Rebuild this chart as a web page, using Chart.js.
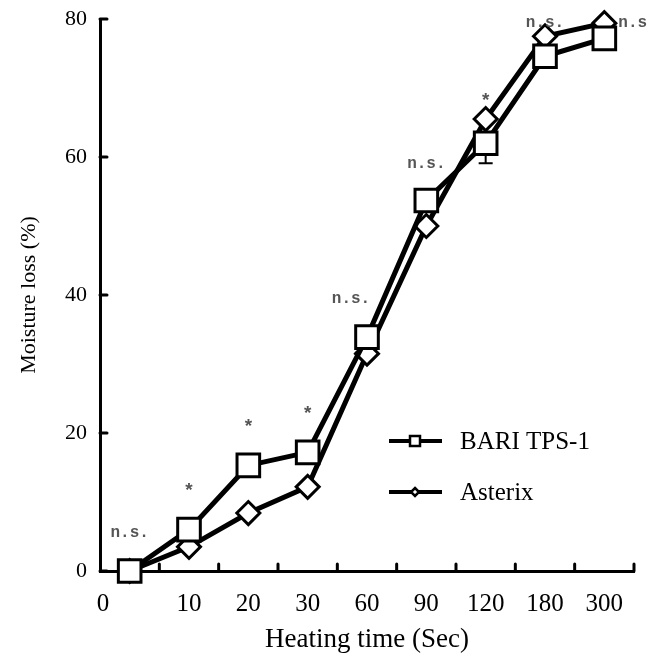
<!DOCTYPE html>
<html>
<head>
<meta charset="utf-8">
<script src="https://cdn.jsdelivr.net/npm/chart.js@4.4.1/dist/chart.umd.min.js"></script>
<style>
  html, body { margin: 0; padding: 0; background: #fff; }
  #wrap { width: 653px; height: 661px; }
</style>
</head>
<body>
<div id="wrap"><canvas id="myChart"></canvas></div>
<script>
// heating time categories (sec)
var times = ["0", "10", "20", "30", "60", "90", "120", "180", "300"];
// moisture loss (%)
var bari = [0, 6.0, 15.3, 17.2, 33.9, 53.7, 62.0, 74.6, 77.2];
var bariErr = [0, 0, 0, 0, 0, 0, 2.9, 0, 0];
var asterix = [0, 3.5, 8.4, 12.2, 31.5, 50.0, 65.5, 77.5, 79.4];
// significance marks and the height (in %) where they sit
var sigText = ["n.s.", "*", "*", "*", "n.s.", "n.s.", "*", "n.s.", "n.s"];
var sigAt = [5.5, 12.2, 21.4, 23.3, 39.4, 59.0, 68.6, 79.4, 79.4];
var yTicks = [0, 20, 40, 60, 80];

var serif = "'Liberation Serif', 'Times New Roman', serif";

var extras = {
  id: 'extras',
  beforeDatasetsDraw: function (chart) {
    var ctx = chart.ctx, x = chart.scales.x, y = chart.scales.y;
    var a = chart.chartArea;
    ctx.save();
    ctx.strokeStyle = '#000';
    ctx.lineWidth = 3;
    ctx.lineCap = 'round';
    // inward ticks on y
    yTicks.forEach(function (v) {
      var py = y.getPixelForValue(v);
      ctx.beginPath(); ctx.moveTo(a.left, py); ctx.lineTo(a.left + 7, py); ctx.stroke();
    });
    // inward ticks on x, between categories
    for (var i = 0; i < times.length; i++) {
      var px = i < times.length - 1 ? (x.getPixelForValue(i) + x.getPixelForValue(i + 1)) / 2 : a.right;
      ctx.beginPath(); ctx.moveTo(px, a.bottom); ctx.lineTo(px, a.bottom - 7); ctx.stroke();
    }
    // error bars
    ctx.lineWidth = 2;
    ctx.lineCap = 'butt';
    bari.forEach(function (v, i) {
      if (!bariErr[i]) return;
      var px = x.getPixelForValue(i);
      var lo = y.getPixelForValue(v - bariErr[i]), hi = y.getPixelForValue(v + bariErr[i]);
      ctx.beginPath();
      ctx.moveTo(px, hi); ctx.lineTo(px, lo);
      ctx.moveTo(px - 7, lo); ctx.lineTo(px + 7, lo);
      ctx.stroke();
    });
    ctx.restore();
  },
  afterDraw: function (chart) {
    var ctx = chart.ctx, x = chart.scales.x, y = chart.scales.y;
    var a = chart.chartArea;
    ctx.save();
    // first x label sits at the axis origin
    ctx.fillStyle = '#000';
    ctx.font = "25px " + serif;
    ctx.textAlign = 'center';
    ctx.textBaseline = 'middle';
    ctx.fillText(times[0], a.left + 3, a.bottom + 33);
    // significance labels
    ctx.fillStyle = '#555';
    sigText.forEach(function (t, i) {
      var px = x.getPixelForValue(i), py = y.getPixelForValue(sigAt[i]);
      if (t === '*') {
        ctx.font = "bold 19px 'Liberation Mono', monospace";
        ctx.textAlign = 'center';
        ctx.fillText(t, px, py + 4);
      } else {
        ctx.font = "bold 16px 'Liberation Mono', monospace";
        if (i === times.length - 1) { ctx.textAlign = 'left'; px += 14; }
        else if (i === 4) { ctx.textAlign = 'center'; px -= 16; }
        else { ctx.textAlign = 'center'; }
        ctx.fillText(t, px, py);
      }
    });
    // legend
    var items = [
      { label: 'BARI TPS-1', style: 'rect', y: 441 },
      { label: 'Asterix', style: 'rectRot', y: 492 }
    ];
    items.forEach(function (it) {
      ctx.strokeStyle = '#000';
      ctx.lineWidth = 4;
      ctx.beginPath(); ctx.moveTo(389, it.y); ctx.lineTo(442, it.y); ctx.stroke();
      ctx.fillStyle = '#fff';
      ctx.lineWidth = 2.5;
      if (it.style === 'rect') {
        ctx.fillRect(410, it.y - 5, 10, 10);
        ctx.strokeRect(410, it.y - 5, 10, 10);
      } else {
        ctx.beginPath();
        ctx.moveTo(415, it.y - 4); ctx.lineTo(419, it.y); ctx.lineTo(415, it.y + 4); ctx.lineTo(411, it.y);
        ctx.closePath(); ctx.fill(); ctx.stroke();
      }
      ctx.fillStyle = '#000';
      ctx.font = "25px " + serif;
      ctx.textAlign = 'left';
      ctx.textBaseline = 'middle';
      ctx.fillText(it.label, 460, it.y + 1);
    });
    ctx.restore();
  }
};

new Chart(document.getElementById('myChart'), {
  type: 'line',
  data: {
    labels: times,
    datasets: [
      {
        label: 'BARI TPS-1',
        data: bari,
        borderColor: '#000',
        borderWidth: 5,
        pointStyle: 'rect',
        pointRadius: 16,
        pointBorderWidth: 3,
        pointBackgroundColor: '#fff',
        pointBorderColor: '#000',
        tension: 0,
        clip: false
      },
      {
        label: 'Asterix',
        data: asterix,
        borderColor: '#000',
        borderWidth: 5,
        pointStyle: 'rectRot',
        pointRadius: 11.5,
        pointBorderWidth: 3,
        pointBackgroundColor: '#fff',
        pointBorderColor: '#000',
        tension: 0,
        clip: false
      }
    ]
  },
  options: {
    responsive: true,
    maintainAspectRatio: false,
    animation: false,
    devicePixelRatio: 1,
    layout: { padding: { top: 0, right: 16, left: 16, bottom: 5 } },
    plugins: {
      legend: { display: false },
      tooltip: { enabled: false }
    },
    scales: {
      x: {
        offset: true,
        grid: { display: false, drawTicks: false },
        border: { display: true, color: '#000', width: 3 },
        ticks: {
          color: '#000', font: { family: serif, size: 25 }, padding: 18, maxRotation: 0, autoSkip: false,
          callback: function (v, i) { return i === 0 ? '' : times[i]; }
        },
        title: { display: true, text: 'Heating time (Sec)', color: '#000', font: { family: serif, size: 27 }, padding: 0 },
        afterFit: function (s) { s.height = 85; }
      },
      y: {
        min: 0,
        max: 80,
        grid: { display: false, drawTicks: false },
        border: { display: true, color: '#000', width: 3 },
        ticks: { stepSize: 20, color: '#000', font: { family: serif, size: 22, lineHeight: 1.0 }, padding: 13 },
        title: { display: true, text: 'Moisture loss (%)', color: '#000', font: { family: serif, size: 22 }, padding: 0 },
        afterFit: function (s) { s.width = 84; s.paddingTop = 0; }
      }
    }
  },
  plugins: [extras]
});
</script>
</body>
</html>
